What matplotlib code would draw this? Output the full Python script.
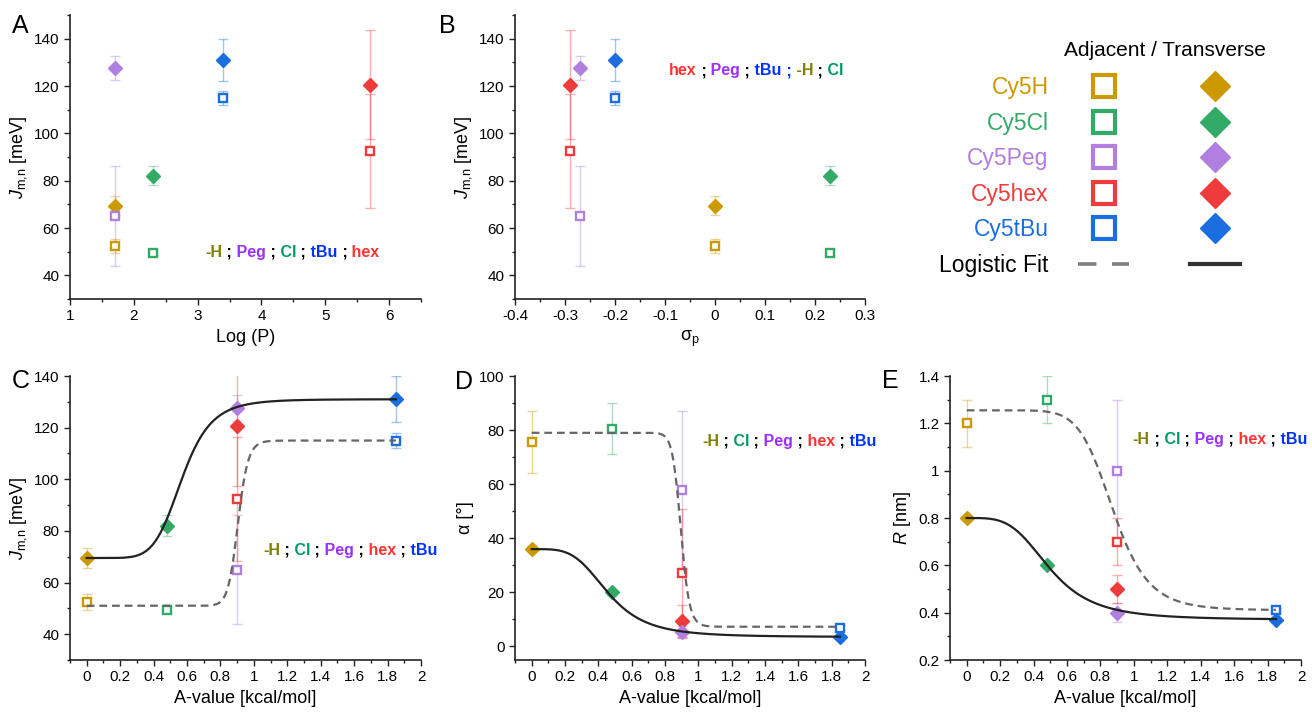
import numpy as np
import matplotlib.pyplot as plt
from matplotlib.lines import Line2D
from matplotlib.ticker import MultipleLocator, FormatStrFormatter

plt.rcParams['font.family'] = ['Liberation Sans', 'DejaVu Sans']
plt.rcParams['mathtext.fontset'] = 'custom'
plt.rcParams['mathtext.rm'] = 'Liberation Sans'
plt.rcParams['mathtext.it'] = 'Liberation Sans:italic'
plt.rcParams['axes.unicode_minus'] = False

# series order: H, Cl, Peg, hex, tBu
names = ['Cy5H', 'Cy5Cl', 'Cy5Peg', 'Cy5hex', 'Cy5tBu']
colors = ['#CC9900', '#33AA66', '#B07FE0', '#EE3B3B', '#1A6EE0']

log_p = [1.7, 2.3, 1.7, 5.7, 3.4]
sigma_p = [0.0, 0.23, -0.27, -0.29, -0.2]
a_value = [0.0, 0.48, 0.9, 0.9, 1.85]

j_adj = [52.5, 49.5, 65.0, 92.5, 115.0]
j_adj_err = [3.0, 1.0, 21.0, 24.0, 3.0]
j_tr = [69.5, 82.0, 127.5, 120.5, 131.0]
j_tr_err = [4.0, 4.0, 5.0, 23.0, 9.0]

alpha_adj = [75.5, 80.5, 58.0, 27.0, 7.0]
alpha_adj_err = [11.5, 9.5, 29.0, 24.0, 1.0]
alpha_tr = [36.0, 20.0, 5.5, 9.5, 3.5]
alpha_tr_err = [1.0, 1.0, 2.0, 6.0, 0.5]

r_adj = [1.2, 1.3, 1.0, 0.7, 0.41]
r_adj_err = [0.1, 0.1, 0.3, 0.1, 0.01]
r_tr = [0.8, 0.6, 0.4, 0.5, 0.37]
r_tr_err = [0.01, 0.01, 0.04, 0.06, 0.01]

# logistic fit parameters (A1, A2, x0, p)
fit_j_adj = (51.0, 115.0, 0.905, 30)
fit_j_tr = (69.5, 131.0, 0.57, 6.5)
fit_a_adj = (79.0, 7.3, 0.895, 35)
fit_a_tr = (36.0, 3.5, 0.46, 4)
fit_r_adj = (1.255, 0.41, 0.876, 8.3)
fit_r_tr = (0.8, 0.37, 0.5, 3.8)

labels_A = [('-H', '#808000'), (' ;', 'black'), (' Peg', '#9B30FF'), (' ;', 'black'),
            (' Cl', '#009966'), (' ;', 'black'), (' tBu', '#0033FF'), (' ;', 'black'), (' hex', '#FF3333')]
labels_B = [('hex', '#FF3333'), (' ;', 'black'), (' Peg', '#9B30FF'), (' ;', 'black'),
            (' tBu', '#0033FF'), (' ;', '#0033FF'), (' -H', '#808000'), (' ;', 'black'), (' Cl', '#009966')]
labels_C = [('-H', '#808000'), (' ;', 'black'), (' Cl', '#009966'), (' ;', 'black'),
            (' Peg', '#9B30FF'), (' ;', 'black'), (' hex', '#FF3333'), (' ;', 'black'), (' tBu', '#0033FF')]


def logistic(x, a1, a2, x0, p):
    return a2 + (a1 - a2) / (1 + (x / x0) ** p)


def style(ax, xlim, ylim, xmaj, xmin, ymaj, ymin, xfmt='%g', yfmt='%g'):
    ax.set_xlim(*xlim)
    ax.set_ylim(*ylim)
    ax.spines['top'].set_visible(False)
    ax.spines['right'].set_visible(False)
    for s in ['left', 'bottom']:
        ax.spines[s].set_linewidth(1.2)
        ax.spines[s].set_color('#222222')
    ax.xaxis.set_major_locator(MultipleLocator(xmaj))
    ax.xaxis.set_minor_locator(MultipleLocator(xmin))
    ax.yaxis.set_major_locator(MultipleLocator(ymaj))
    ax.yaxis.set_minor_locator(MultipleLocator(ymin))
    ax.xaxis.set_major_formatter(FormatStrFormatter(xfmt))
    ax.yaxis.set_major_formatter(FormatStrFormatter(yfmt))
    ax.tick_params(which='both', direction='out', color='#222222', width=1.0, labelsize=11)
    ax.tick_params(which='major', length=4)
    ax.tick_params(which='minor', length=2.5)


def draw_points(ax, xs, adj, adj_err, tr, tr_err):
    for i in range(5):
        ax.errorbar(xs[i], adj[i], yerr=adj_err[i], fmt='none', ecolor=colors[i],
                    alpha=0.4, elinewidth=1, capsize=3.5, capthick=1)
        ax.errorbar(xs[i], tr[i], yerr=tr_err[i], fmt='none', ecolor=colors[i],
                    alpha=0.4, elinewidth=1, capsize=3.5, capthick=1)
    for i in [0, 1, 3, 2, 4]:
        ax.plot(xs[i], tr[i], 'D', color=colors[i], ms=7.5, zorder=4)
    for i in range(5):
        ax.plot(xs[i], adj[i], 's', mfc='white', mec=colors[i], mew=1.7, ms=5.6, zorder=5)


def draw_fits(ax, p_adj, p_tr):
    xx = np.linspace(0, 1.85, 400)
    ax.plot(xx, logistic(xx, *p_tr), color='#222222', lw=1.6, zorder=6)
    ax.plot(xx, logistic(xx, *p_adj), color='#666666', lw=1.6, ls=(0, (3.5, 2.2)), zorder=6)


def color_text(ax, x, y, pieces, size=11.5):
    t = ax.text(x, y, pieces[0][0], color=pieces[0][1], transform=ax.transAxes,
                fontsize=size, fontweight='bold', va='center', ha='left')
    for s, c in pieces[1:]:
        t = ax.annotate(s, xy=(1, 0), xycoords=t, xytext=(0, 0), textcoords='offset points',
                        color=c, fontsize=size, fontweight='bold', va='bottom', ha='left')


W, H = 1312, 712
fig = plt.figure(figsize=(W / 100, H / 100), dpi=100)


def add_ax(left, right, top, bottom):
    return fig.add_axes([left / W, 1 - bottom / H, (right - left) / W, (bottom - top) / H])


axA = add_ax(70, 421, 15, 299)
axB = add_ax(515, 865, 15, 299)
axC = add_ax(70, 421, 376, 660)
axD = add_ax(515, 865, 376, 660)
axE = add_ax(950, 1301, 376, 660)

jlabel = r'$\mathit{J}_{\mathrm{m{,}n}}$ [meV]'
lab_fs = 13

# A
draw_points(axA, log_p, j_adj, j_adj_err, j_tr, j_tr_err)
style(axA, (1, 6.5), (30, 150), 1, 0.5, 20, 10)
axA.set_xlabel('Log (P)', fontsize=lab_fs)
axA.set_ylabel(jlabel, fontsize=lab_fs)
color_text(axA, 0.385, 0.165, labels_A)

# B
draw_points(axB, sigma_p, j_adj, j_adj_err, j_tr, j_tr_err)
style(axB, (-0.4, 0.3), (30, 150), 0.1, 0.05, 20, 10)
axB.set_xlabel(r'σ$_\mathrm{p}$', fontsize=lab_fs)
axB.set_ylabel(jlabel, fontsize=lab_fs)
color_text(axB, 0.44, 0.803, labels_B)

# C
draw_points(axC, a_value, j_adj, j_adj_err, j_tr, j_tr_err)
draw_fits(axC, fit_j_adj, fit_j_tr)
style(axC, (-0.1, 2), (30, 140), 0.2, 0.1, 20, 10)
axC.set_yticks(np.arange(40, 141, 20))
axC.set_xlabel('A-value [kcal/mol]', fontsize=lab_fs)
axC.set_ylabel(jlabel, fontsize=lab_fs)
color_text(axC, 0.55, 0.387, labels_C)

# D
draw_points(axD, a_value, alpha_adj, alpha_adj_err, alpha_tr, alpha_tr_err)
draw_fits(axD, fit_a_adj, fit_a_tr)
style(axD, (-0.1, 2), (-5, 100), 0.2, 0.1, 20, 10)
axD.set_xlabel('A-value [kcal/mol]', fontsize=lab_fs)
axD.set_ylabel('α [°]', fontsize=lab_fs)
color_text(axD, 0.534, 0.771, labels_C)

# E
draw_points(axE, a_value, r_adj, r_adj_err, r_tr, r_tr_err)
draw_fits(axE, fit_r_adj, fit_r_tr)
style(axE, (-0.1, 2), (0.2, 1.4), 0.2, 0.1, 0.2, 0.1)
axE.set_xlabel('A-value [kcal/mol]', fontsize=lab_fs)
axE.set_ylabel(r'$\mathit{R}$ [nm]', fontsize=lab_fs)
color_text(axE, 0.521, 0.778, labels_C)

for ax in [axC, axD, axE]:
    ax.set_xticks(np.arange(0, 2.01, 0.2))

# panel letters
for letter, (px, py) in zip('ABCDE', [(20, 26), (447, 26), (21, 381), (464, 382), (890, 381)]):
    fig.text(px / W, 1 - py / H, letter, fontsize=18, ha='center', va='center')

# legend
sq = [Line2D([], [], marker='s', ls='none', mfc='white', mec=c, mew=3, ms=15.5) for c in colors]
di = [Line2D([], [], marker='D', ls='none', color=c, ms=15) for c in colors]
fit_adj = Line2D([], [], color='#808080', lw=2.6, ls=(0, (5.1, 4.3)))
fit_tr = Line2D([], [], color='#333333', lw=3)
handles = sq + [fit_adj] + di + [fit_tr]
labels = names + ['Logistic Fit'] + [''] * 6
leg = fig.legend(handles, labels, ncol=2, markerfirst=False, frameon=False,
                 loc='upper right', bbox_to_anchor=(1240 / W, 1 - 76 / H),
                 fontsize=16.5, labelcolor=colors + ['black'] + ['black'] * 6,
                 handlelength=2.2, handletextpad=1.3, columnspacing=1.35,
                 labelspacing=0.55, borderpad=0, borderaxespad=0, numpoints=1)
fig.text(1165 / W, 1 - 50 / H, 'Adjacent / Transverse', fontsize=15, ha='center', va='center')

fig.savefig('out.png', dpi=100)
